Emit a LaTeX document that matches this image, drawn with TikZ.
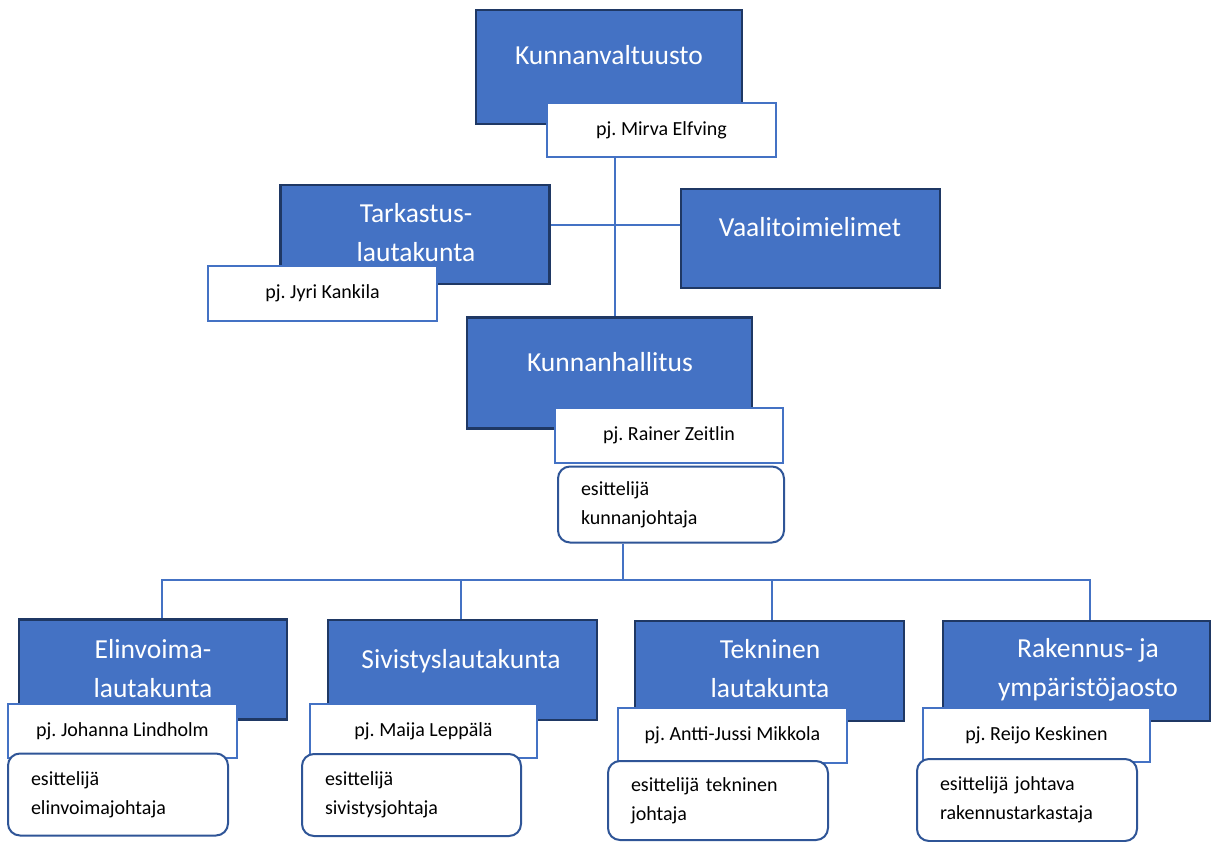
\documentclass[tikz,border=0pt]{standalone}
\usepackage{fontspec}
\setmainfont{Carlito}
\usepackage{tikz}
\definecolor{officeblue}{HTML}{4472C4}
\definecolor{navyline}{HTML}{1F3864}
\definecolor{roundline}{HTML}{2F5597}
\frenchspacing

\begin{document}
\begin{tikzpicture}[x=1pt, y=-1pt,
    bluebox/.style = {draw=navyline, fill=officeblue, line width=2.5pt, inner sep=0pt},
    bluetext/.style = {text=white, align=center, font=\fontsize{27.5}{39}\selectfont},
    pjbox/.style = {draw=officeblue, fill=white, line width=2pt, inner sep=0pt,
        minimum height=54pt, font=\fontsize{20}{24}\selectfont},
    esbox/.style = {draw=roundline, fill=white, line width=2pt, rounded corners=12pt,
        inner xsep=23pt, align=left, font=\fontsize{20}{29}\selectfont},
    conn/.style = {draw=officeblue, line width=1.3pt}]
    \useasboundingbox (0,0) rectangle (1212,842);

    \node[bluebox, minimum width=266pt, minimum height=114pt] (Kv) at (609,67) {};
    \node[bluetext] (KvT) at (609,55) {Kunnanvaltuusto};
    \node[pjbox, minimum width=229pt] (KvPj) at (661.5,130) {pj. Mirva Elfving};

    \node[bluebox, minimum width=269pt, minimum height=99pt] (Tl) at (415,234.5) {};
    \node[bluetext] (TlT) at (416,232.5) {Tarkastus-\\lautakunta};
    \node[pjbox, minimum width=229pt, minimum height=55pt] (TlPj) at (322.5,293.5) {pj. Jyri Kankila};

    \node[bluebox, minimum width=259pt, minimum height=99pt] (Vt) at (810.5,238.5) {};
    \node[bluetext] (VtT) at (810,227) {Vaalitoimielimet};

    \node[bluebox, minimum width=285pt, minimum height=111pt] (Kh) at (609.5,373) {};
    \node[bluetext] (KhT) at (610,362) {Kunnanhallitus};
    \node[pjbox, minimum width=228pt, minimum height=55pt] (KhPj) at (669,435.5) {pj. Rainer Zeitlin};
    \node[esbox, text width=180pt, minimum height=76pt] (KhEs) at (671,504.5) {esittelijä\\kunnanjohtaja};

    \node[bluebox, minimum width=268pt, minimum height=100pt] (El) at (153,669.5) {};
    \node[bluetext] (ElT) at (153,668.5) {Elinvoima-\\lautakunta};
    \node[pjbox, minimum width=229pt] (ElPj) at (122.5,731) {pj. Johanna Lindholm};
    \node[esbox, text width=174pt, minimum height=82pt] (ElEs) at (118,794.5) {esittelijä\\elinvoimajohtaja};

    \node[bluebox, minimum width=269pt, minimum height=100pt] (Sl) at (462.5,670) {};
    \node[bluetext] (SlT) at (461,661) {Sivistyslautakunta};
    \node[pjbox, minimum width=227pt] (SlPj) at (423.5,731) {pj. Maija Leppälä};
    \node[esbox, text width=173pt, minimum height=82pt] (SlEs) at (411.5,795) {esittelijä\\sivistysjohtaja};

    \node[bluebox, minimum width=269pt, minimum height=100pt] (Tk) at (769.5,671) {};
    \node[bluetext] (TkT) at (770,669) {Tekninen\\lautakunta};
    \node[pjbox, minimum width=229pt, minimum height=55pt] (TkPj) at (732.5,735.5) {pj. Antti-Jussi Mikkola};
    \node[esbox, text width=174pt, minimum height=79pt] (TkEs) at (718,800.5) {esittelijä tekninen\\johtaja};

    \node[bluebox, minimum width=267pt, minimum height=100pt] (Ry) at (1076.5,671) {};
    \node[bluetext] (RyT) at (1088,669.5) {Rakennus- ja\\ympäristöjaosto};
    \node[pjbox, minimum width=227pt] (RyPj) at (1036.5,735) {pj. Reijo Keskinen};
    \node[esbox, text width=174pt, minimum height=82pt] (RyEs) at (1027,800) {esittelijä johtava\\rakennustarkastaja};

    \coordinate (Spine) at (615,0);
    \coordinate (Side) at (0,225);
    \coordinate (Bus) at (0,580);
    \coordinate (Drop) at (623,0);
    \coordinate (ElX) at (162,0);
    \coordinate (SlX) at (461,0);
    \coordinate (TkX) at (772,0);
    \coordinate (RyX) at (1090,0);

    \draw[conn] (KvPj.south -| Spine) -- (Kh.north -| Spine);
    \draw[conn] (Tl.east |- Side) -- (Vt.west |- Side);
    \draw[conn] (KhEs.south -| Drop) -- (Bus -| Drop);
    \draw[conn] (El.north -| ElX) -- (Bus -| ElX) -- (Bus -| RyX) -- (Ry.north -| RyX);
    \draw[conn] (Bus -| SlX) -- (Sl.north -| SlX);
    \draw[conn] (Bus -| TkX) -- (Tk.north -| TkX);
\end{tikzpicture}
\end{document}
